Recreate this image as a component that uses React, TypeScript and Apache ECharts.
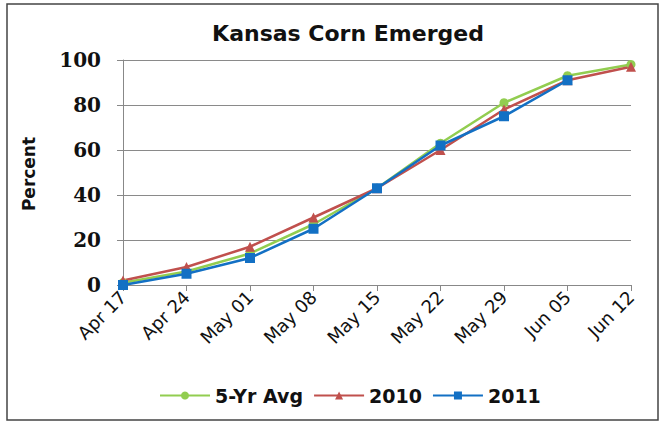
import React, { useEffect, useRef } from "react";
import * as echarts from "echarts";

const categories = ["Apr 17", "Apr 24", "May 01", "May 08", "May 15", "May 22", "May 29", "Jun 05", "Jun 12"];
const avg5yr = [1, 6, 14, 27, 43, 63, 81, 93, 98];
const y2010 = [2, 8, 17, 30, 43, 60, 78, 91, 97];
const y2011 = [0, 5, 12, 25, 43, 62, 75, 91];
const seriesNames = ["5-Yr Avg", "2010", "2011"];

export default function App() {
  const ref = useRef<HTMLDivElement>(null);
  useEffect(() => {
    document.body.style.margin = "0";
    const chart = echarts.init(ref.current!, null, { renderer: "svg" });
    const green = "#92CD50";
    const red = "#C0504D";
    const blue = "#1370C4";
    chart.setOption({
      animation: false,
      backgroundColor: "#fff",
      title: {
        text: "Kansas Corn Emerged",
        left: 343,
        top: 17,
        textAlign: "center",
        textStyle: { fontFamily: "DejaVu Sans", fontWeight: "bold", fontSize: 22, color: "#111" },
      },
      graphic: [
        {
          type: "rect",
          shape: { x: 7, y: 4, width: 651, height: 416 },
          style: { fill: "none", stroke: "#444", lineWidth: 1.5 },
          z: 100,
        },
        {
          type: "text",
          x: 29,
          y: 174,
          rotation: Math.PI / 2,
          style: {
            text: "Percent",
            fontFamily: "DejaVu Sans",
            fontWeight: "bold",
            fontSize: 17,
            fill: "#111",
            align: "center",
            verticalAlign: "middle",
          },
        },
      ],
      legend: {
        left: 154,
        top: 381,
        itemWidth: 50,
        itemHeight: 10,
        itemGap: 10,
        data: seriesNames,
        textStyle: { fontFamily: "DejaVu Sans", fontWeight: "bold", fontSize: 19, color: "#111" },
      },
      grid: { left: 123, right: 35, top: 60, bottom: 139, containLabel: false },
      xAxis: {
        type: "category",
        data: categories,
        boundaryGap: false,
        axisLine: { lineStyle: { color: "#888", width: 1 } },
        axisTick: { show: true, alignWithLabel: true, length: 6, lineStyle: { color: "#888" } },
        axisLabel: {
          rotate: 45,
          margin: 9,
          fontFamily: "DejaVu Sans",
          fontSize: 18,
          color: "#111",
          interval: 0,
        },
        splitLine: { show: false },
      },
      yAxis: {
        type: "value",
        min: 0,
        max: 100,
        interval: 20,
        axisLine: { show: true, lineStyle: { color: "#888", width: 1 } },
        axisTick: { show: true, inside: false, length: 6, lineStyle: { color: "#888" } },
        axisLabel: {
          margin: 22,
          fontFamily: "DejaVu Serif",
          fontWeight: "bold",
          fontSize: 20,
          color: "#111",
        },
        splitLine: { lineStyle: { color: "#8a8a8a", width: 1 } },
      },
      series: [
        {
          name: seriesNames[0],
          type: "line",
          data: avg5yr,
          symbol: "circle",
          symbolSize: 9,
          lineStyle: { color: green, width: 2.5 },
          itemStyle: { color: green },
        },
        {
          name: seriesNames[1],
          type: "line",
          data: y2010,
          symbol: "triangle",
          symbolSize: 10,
          lineStyle: { color: red, width: 2.5 },
          itemStyle: { color: red },
        },
        {
          name: seriesNames[2],
          type: "line",
          data: y2011,
          symbol: "rect",
          symbolSize: 10,
          lineStyle: { color: blue, width: 2.5 },
          itemStyle: { color: blue },
        },
      ],
    });
    return () => chart.dispose();
  }, []);
  return <div ref={ref} style={{ width: 666, height: 424 }} />;
}
